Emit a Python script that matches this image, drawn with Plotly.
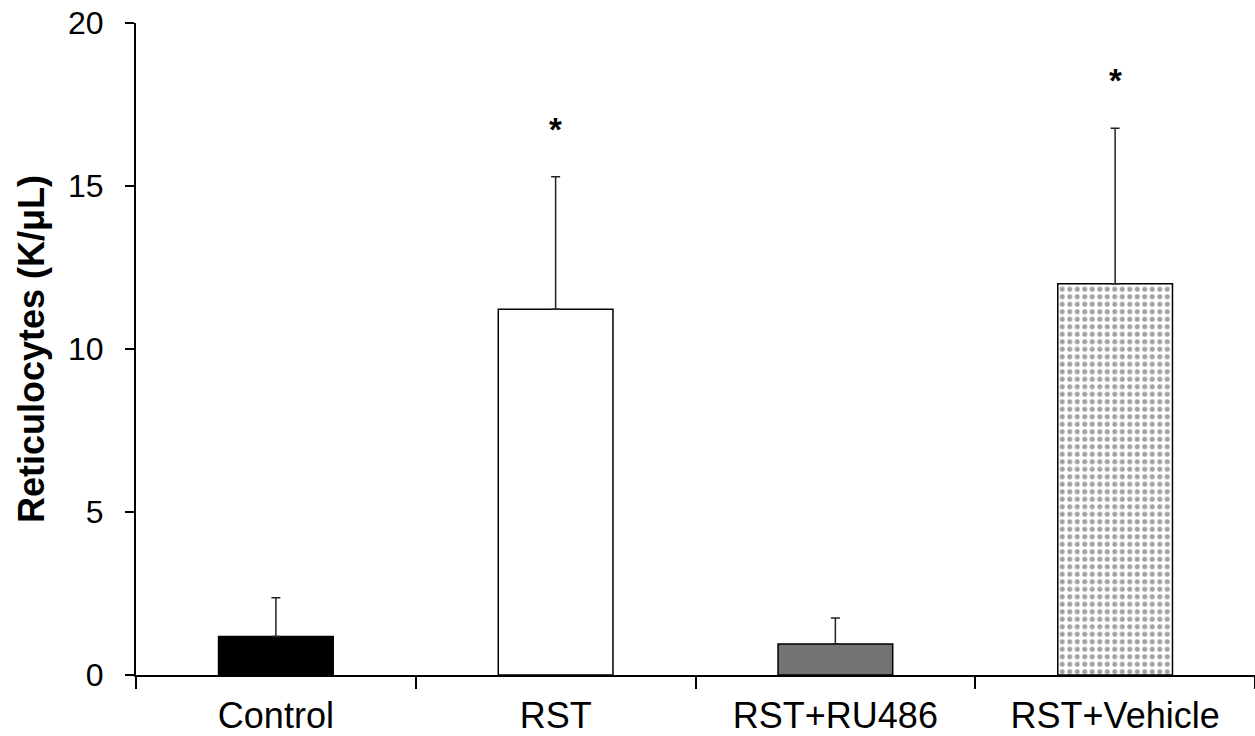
import plotly.graph_objects as go

categories = ["Control", "RST", "RST+RU486", "RST+Vehicle"]
means = [1.18, 11.22, 0.95, 12.0]
sems = [1.19, 4.06, 0.8, 4.77]
significant = [False, True, False, True]
fills = ["#000000", "#ffffff", "#737373", "#ffffff"]
patterns = ["", "", "", "."]

fig = go.Figure()
fig.add_trace(go.Bar(
    x=categories, y=means, width=0.41,
    marker=dict(color=fills, line=dict(color="#000000", width=1.5),
                pattern=dict(shape=patterns, fgcolor="#000000", bgcolor="#ffffff",
                             size=7.5, solidity=0.35, fillmode="overlay")),
    error_y=dict(type="data", symmetric=False, array=sems, arrayminus=[0]*4,
                 color="#222222", thickness=1.5, width=4.5),
    showlegend=False,
))

for c, m, s, sig in zip(categories, means, sems, significant):
    if sig:
        fig.add_annotation(x=c, y=m + s, text="<b>*</b>", showarrow=False,
                           yanchor="bottom", yshift=27,
                           font=dict(family="Arial, Liberation Sans", size=33, color="#000"))

fig.update_layout(
    width=1255, height=736,
    margin=dict(l=136, r=0, t=23, b=61),
    plot_bgcolor="#ffffff", paper_bgcolor="#ffffff",
    font=dict(family="Arial, Liberation Sans", color="#000000"),
)
fig.update_xaxes(
    range=[-0.5, 3.5], showline=True, linecolor="#000", linewidth=2,
    ticks="outside", tickson="boundaries", ticklen=12, tickwidth=2, tickcolor="#000",
    tickfont=dict(size=36, color="#000"), ticklabelstandoff=8,
    showgrid=False, zeroline=False,
)
fig.update_yaxes(
    range=[0, 20], tickvals=[0, 5, 10, 15, 20], showline=True, linecolor="#000",
    linewidth=2, ticks="outside", ticklen=9, tickwidth=2, tickcolor="#000",
    tickfont=dict(size=32, color="#000"), ticklabelstandoff=15,
    showgrid=False, zeroline=False,
    title=dict(text="<b>Reticulocytes (K/μL)</b>", font=dict(size=36, color="#000"), standoff=12),
)
fig.write_html("out.html")
